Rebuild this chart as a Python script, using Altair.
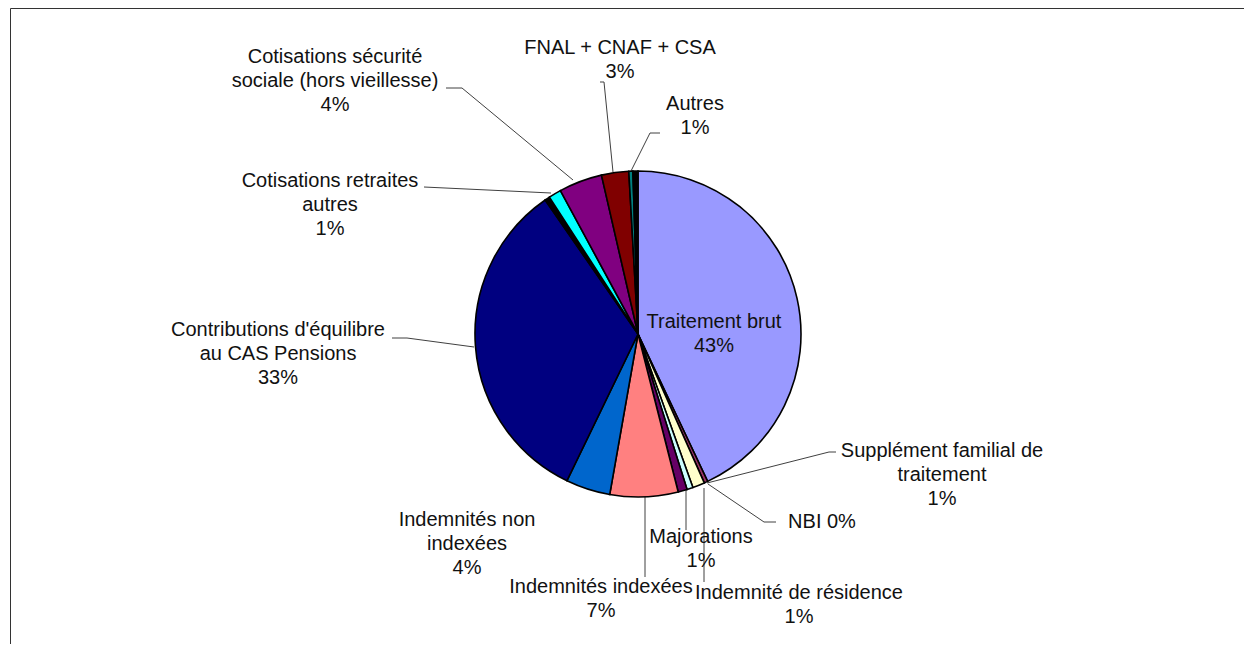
import altair as alt
import pandas as pd

# ---------------- data ----------------
categories = [
    "Traitement brut",
    "NBI",
    "Supplément familial de traitement",
    "Indemnité de résidence",
    "Majorations",
    "Indemnités indexées",
    "Indemnités non indexées",
    "Contributions d'équilibre au CAS Pensions",
    "Non libellé 1",
    "Cotisations retraites autres",
    "Cotisations sécurité sociale (hors vieillesse)",
    "FNAL + CNAF + CSA",
    "Non libellé 2",
    "Autres",
]
values = [43.0, 0.36, 1.2, 0.6, 0.9, 6.75, 4.4, 33.2, 0.5, 1.25, 4.3, 2.7, 0.4, 0.5]
pct_labels = ["43%", "0%", "1%", "1%", "1%", "7%", "4%", "33%", "", "1%", "4%", "3%", "", "1%"]
label_lines = [
    ["Traitement  brut"],
    [],
    ["Supplément  familial  de", "traitement"],
    ["Indemnité  de  résidence"],
    ["Majorations"],
    ["Indemnités  indexées"],
    ["Indemnités  non", "indexées"],
    ["Contributions  d'équilibre", "au CAS Pensions"],
    [],
    ["Cotisations  retraites", "autres"],
    ["Cotisations  sécurité", "sociale (hors vieillesse)"],
    ["FNAL  +  CNAF  +  CSA"],
    [],
    ["Autres"],
]

# ---------------- styles / layout ----------------
colors = ["#9999FF", "#993366", "#FFFFCC", "#CCFFFF", "#660066", "#FF8080", "#0066CC",
          "#000080", "#000000", "#00FFFF", "#800080", "#800000", "#008080", "#000000"]
W, H = 1236, 636
CX, CY, R = 630, 326, 163
FONT = "Liberation Sans"
FS = 20
LH = 24

# label anchor (center x, first-line y) in pixels
label_pos = {
    "Traitement brut": (706, 314),
    "Supplément familial de traitement": (934, 443),
    "Indemnité de résidence": (791, 585),
    "Majorations": (693, 529),
    "Indemnités indexées": (593, 579),
    "Indemnités non indexées": (459, 512),
    "Contributions d'équilibre au CAS Pensions": (270, 322),
    "Cotisations retraites autres": (322, 173),
    "Cotisations sécurité sociale (hors vieillesse)": (327, 49),
    "FNAL + CNAF + CSA": (612, 40),
    "Autres": (687, 96),
}
nbi_pos = (814, 514)

leaders = {
    "sec": [(438, 80), (454, 80), (565, 172)],
    "fnal": [(592, 74), (596, 74), (605, 164)],
    "autres": [(652, 125), (642, 125), (623, 163)],
    "retr": [(416, 179), (543, 185)],
    "contrib": [(384, 330), (399, 330), (466, 339)],
    "supp": [(828, 444), (821, 444), (699, 475)],
    "nbi": [(700, 476), (756, 514), (768, 514)],
    "resid": [(696, 480), (696, 574)],
    "major": [(678, 482), (678, 522)],
    "index": [(637, 489), (637, 569)],
}

# ---------------- tables ----------------
pie_df = pd.DataFrame({"cat": categories, "value": values, "idx": list(range(len(categories)))})

rows = []
for cat, lines, pct in zip(categories, label_lines, pct_labels):
    if cat == "NBI":
        rows.append({"x": nbi_pos[0], "y": nbi_pos[1], "t": "NBI " + pct})
        continue
    if cat not in label_pos:
        continue
    x0, y0 = label_pos[cat]
    for i, ln in enumerate(lines + [pct]):
        rows.append({"x": x0, "y": y0 + i * LH, "t": ln})
text_df = pd.DataFrame(rows)

lrows = []
for k, pts in leaders.items():
    for j, (x, y) in enumerate(pts):
        lrows.append({"lid": k, "o": j, "x": x, "y": y})
lead_df = pd.DataFrame(lrows)

frame_df = pd.DataFrame({"fid": ["l", "l", "t", "t"], "o": [0, 1, 0, 1],
                         "x": [2.5, 2.5, 2.5, W], "y": [H, 0.5, 0.5, 0.5]})

# ---------------- charts ----------------
pie = alt.Chart(pie_df).mark_arc(outerRadius=R, stroke="#000000", strokeWidth=1.6).encode(
    theta=alt.Theta("value:Q", stack=True),
    order=alt.Order("idx:Q"),
    color=alt.Color("cat:N", scale=alt.Scale(domain=categories, range=colors), legend=None),
    x=alt.value(CX),
    y=alt.value(CY),
)

lead = alt.Chart(lead_df).mark_line(color="#404040", strokeWidth=1).encode(
    x=alt.X("x:Q", scale=None, axis=None),
    y=alt.Y("y:Q", scale=None, axis=None),
    detail="lid:N",
    order="o:Q",
)

frame = alt.Chart(frame_df).mark_line(color="#333333", strokeWidth=1).encode(
    x=alt.X("x:Q", scale=None, axis=None),
    y=alt.Y("y:Q", scale=None, axis=None),
    detail="fid:N",
    order="o:Q",
)

txt = alt.Chart(text_df).mark_text(font=FONT, fontSize=FS, color="#111111",
                                   align="center", baseline="middle").encode(
    x=alt.X("x:Q", scale=None, axis=None),
    y=alt.Y("y:Q", scale=None, axis=None),
    text="t:N",
)

chart = alt.layer(frame, lead, pie, txt).properties(
    width=W, height=H, autosize=alt.AutoSizeParams(type="none"), padding=0
).configure_view(stroke=None)

chart.save("out.html", embed_options={"renderer": "svg", "actions": False})
